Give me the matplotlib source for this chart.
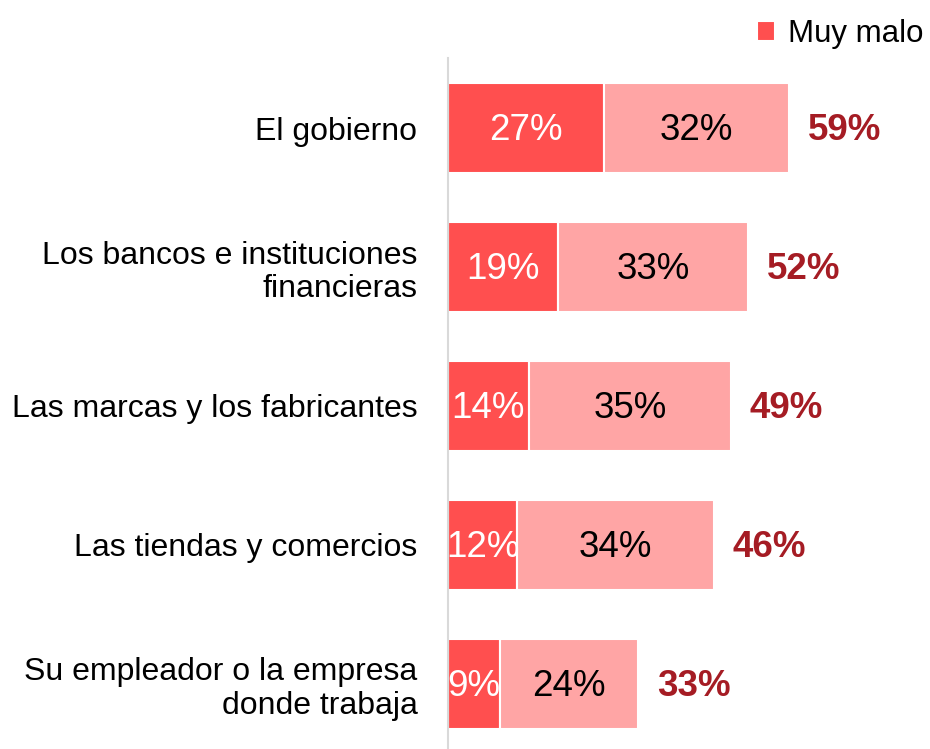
import matplotlib.pyplot as plt
import numpy as np

plt.rcParams["font.family"] = ["Liberation Sans", "DejaVu Sans"]

categories = ["El gobierno", "Los bancos e instituciones\nfinancieras",
              "Las marcas y los fabricantes", "Las tiendas y comercios",
              "Su empleador o la empresa\ndonde trabaja"]
muy_malo = [27, 19, 14, 12, 9]
malo = [32, 33, 35, 34, 24]
total = [59, 52, 49, 46, 33]

c_dark = "#FF4F4F"
c_light = "#FFA5A5"
c_total = "#A51C24"

fig = plt.figure(figsize=(9.3, 7.49), dpi=100)
ax = fig.add_axes([0.4817, 0.0, 0.5183, 0.9226])

y = np.arange(len(categories))
b1 = ax.barh(y, muy_malo, height=0.65, color=c_dark, edgecolor="white", linewidth=1.5, label="Muy malo")
b2 = ax.barh(y, malo, left=muy_malo, height=0.65, color=c_light, edgecolor="white", linewidth=1.5)

for i in range(len(categories)):
    ax.text(muy_malo[i] / 2, y[i] + 0.02, f"{muy_malo[i]}%", ha="center", va="center",
            color="white", fontsize=26.5)
    ax.text(muy_malo[i] + malo[i] / 2, y[i] + 0.02, f"{malo[i]}%", ha="center", va="center",
            color="black", fontsize=26.5)
    ax.text(total[i] + 3.3, y[i] + 0.02, f"{total[i]}%", ha="left", va="center",
            color=c_total, fontsize=26.5, fontweight="bold")

ax.set_xlim(0, 83.5)
ax.set_ylim(4.468, -0.504)
ax.set_yticks(y)
ax.set_yticklabels(categories, fontsize=23, ha="right", linespacing=1.15)
ax.tick_params(axis="y", length=0, pad=22)
ax.set_xticks([])
for s in ["top", "right", "bottom"]:
    ax.spines[s].set_visible(False)
ax.spines["left"].set_color("#D9D9D9")
ax.spines["left"].set_linewidth(1.5)

fig.legend(handles=[b1], labels=["Muy malo"], loc="upper right", bbox_to_anchor=(1.023, 1.012),
           frameon=False, fontsize=22.5, handlelength=0.6, handleheight=0.6, handletextpad=0.4)

fig.savefig("out.png", dpi=100)
